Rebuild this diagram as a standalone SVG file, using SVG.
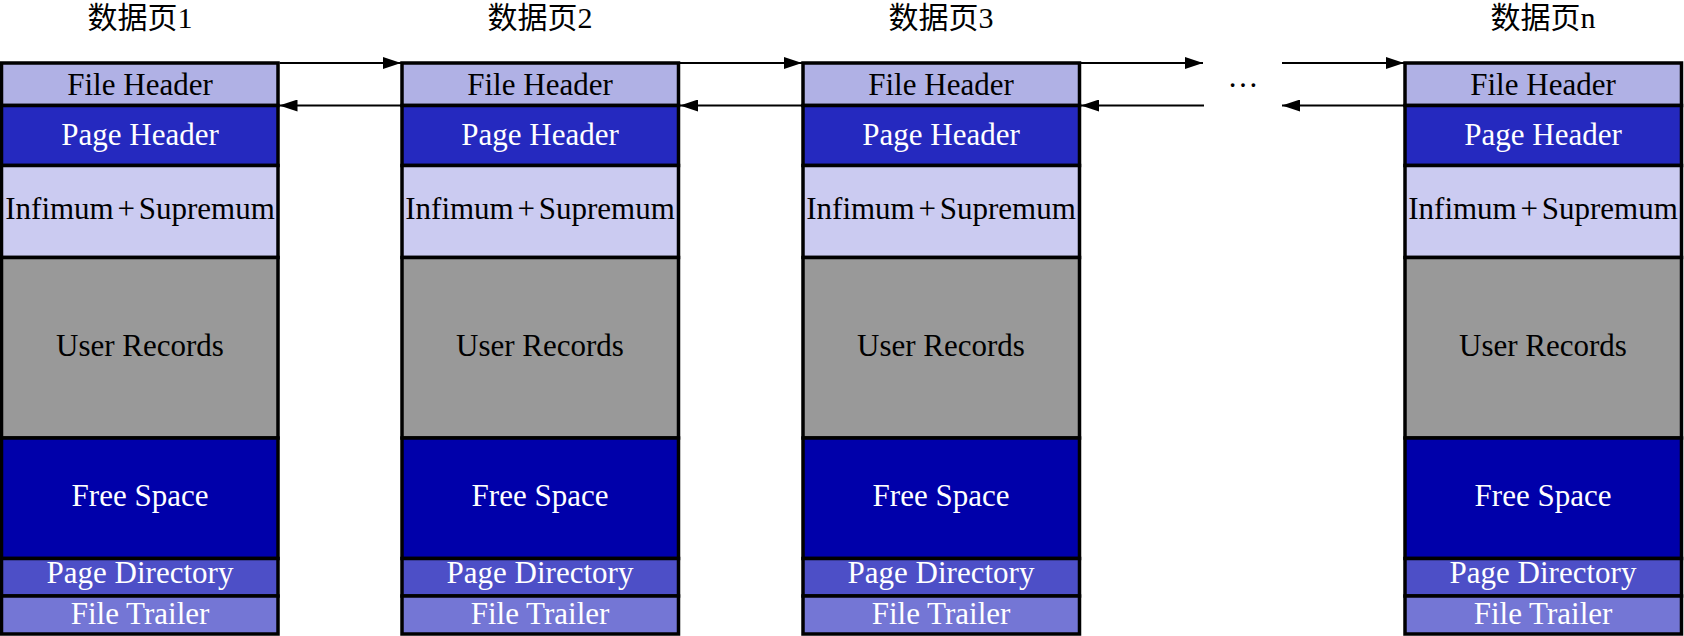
<svg xmlns="http://www.w3.org/2000/svg" width="1684" height="636" viewBox="0 0 1684 636">
<style>
.c{stroke:#000;stroke-width:3.5}
.fh{fill:#B0B1E5}.ph{fill:#2529BF}.is{fill:#CBCBF1}.ur{fill:#999999}.fs{fill:#0000AA}.pd{fill:#4D4FC7}.ft{fill:#7476D5}
.t{font-family:"Liberation Serif","Times New Roman",serif;font-size:31px;text-anchor:middle}
.inf{word-spacing:-4px}
.k{fill:#000}.w{fill:#fff}
.title{font-family:"Liberation Serif","Noto Sans CJK SC",serif;font-size:30px;text-anchor:middle;fill:#000}
.ln{stroke:#000;stroke-width:2;fill:none;marker-end:url(#ah)}
</style>
<defs>
<marker id="ah" viewBox="0 0 18 12" refX="18" refY="6" markerWidth="18" markerHeight="12" markerUnits="userSpaceOnUse" orient="auto">
<path d="M0,0 L18,6 L0,12 Z" fill="#000"/>
</marker>
</defs>
<rect width="1684" height="636" fill="#fff"/>

<g id="page1">
<text class="title" x="140" y="28">数据页1</text>
<rect class="c fh" x="1.5" y="63" width="276.5" height="42.5"/>
<rect class="c ph" x="1.5" y="105.5" width="276.5" height="60"/>
<rect class="c is" x="1.5" y="165.5" width="276.5" height="92"/>
<rect class="c ur" x="1.5" y="257.5" width="276.5" height="180.5"/>
<rect class="c fs" x="1.5" y="438" width="276.5" height="120.5"/>
<rect class="c pd" x="1.5" y="558.5" width="276.5" height="37.5"/>
<rect class="c ft" x="1.5" y="596" width="276.5" height="38"/>
<text class="t k" x="140" y="94.5">File Header</text>
<text class="t w" x="140" y="145">Page Header</text>
<text class="t k inf" x="140" y="219">Infimum + Supremum</text>
<text class="t k" x="140" y="356">User Records</text>
<text class="t w" x="140" y="506">Free Space</text>
<text class="t w" x="140" y="583">Page Directory</text>
<text class="t w" x="140" y="624">File Trailer</text>
</g>

<g id="page2">
<text class="title" x="540" y="28">数据页2</text>
<rect class="c fh" x="402" y="63" width="276.5" height="42.5"/>
<rect class="c ph" x="402" y="105.5" width="276.5" height="60"/>
<rect class="c is" x="402" y="165.5" width="276.5" height="92"/>
<rect class="c ur" x="402" y="257.5" width="276.5" height="180.5"/>
<rect class="c fs" x="402" y="438" width="276.5" height="120.5"/>
<rect class="c pd" x="402" y="558.5" width="276.5" height="37.5"/>
<rect class="c ft" x="402" y="596" width="276.5" height="38"/>
<text class="t k" x="540" y="94.5">File Header</text>
<text class="t w" x="540" y="145">Page Header</text>
<text class="t k inf" x="540" y="219">Infimum + Supremum</text>
<text class="t k" x="540" y="356">User Records</text>
<text class="t w" x="540" y="506">Free Space</text>
<text class="t w" x="540" y="583">Page Directory</text>
<text class="t w" x="540" y="624">File Trailer</text>
</g>

<g id="page3">
<text class="title" x="941" y="28">数据页3</text>
<rect class="c fh" x="803" y="63" width="276.5" height="42.5"/>
<rect class="c ph" x="803" y="105.5" width="276.5" height="60"/>
<rect class="c is" x="803" y="165.5" width="276.5" height="92"/>
<rect class="c ur" x="803" y="257.5" width="276.5" height="180.5"/>
<rect class="c fs" x="803" y="438" width="276.5" height="120.5"/>
<rect class="c pd" x="803" y="558.5" width="276.5" height="37.5"/>
<rect class="c ft" x="803" y="596" width="276.5" height="38"/>
<text class="t k" x="941" y="94.5">File Header</text>
<text class="t w" x="941" y="145">Page Header</text>
<text class="t k inf" x="941" y="219">Infimum + Supremum</text>
<text class="t k" x="941" y="356">User Records</text>
<text class="t w" x="941" y="506">Free Space</text>
<text class="t w" x="941" y="583">Page Directory</text>
<text class="t w" x="941" y="624">File Trailer</text>
</g>

<g id="ellipsis">
<text class="t k" x="1243" y="87">…</text>
</g>

<g id="pagen">
<text class="title" x="1543" y="28">数据页n</text>
<rect class="c fh" x="1405" y="63" width="276.5" height="42.5"/>
<rect class="c ph" x="1405" y="105.5" width="276.5" height="60"/>
<rect class="c is" x="1405" y="165.5" width="276.5" height="92"/>
<rect class="c ur" x="1405" y="257.5" width="276.5" height="180.5"/>
<rect class="c fs" x="1405" y="438" width="276.5" height="120.5"/>
<rect class="c pd" x="1405" y="558.5" width="276.5" height="37.5"/>
<rect class="c ft" x="1405" y="596" width="276.5" height="38"/>
<text class="t k" x="1543" y="94.5">File Header</text>
<text class="t w" x="1543" y="145">Page Header</text>
<text class="t k inf" x="1543" y="219">Infimum + Supremum</text>
<text class="t k" x="1543" y="356">User Records</text>
<text class="t w" x="1543" y="506">Free Space</text>
<text class="t w" x="1543" y="583">Page Directory</text>
<text class="t w" x="1543" y="624">File Trailer</text>
</g>

<g id="connectors">
<line class="ln" x1="279.5" y1="63" x2="401" y2="63"/>
<line class="ln" x1="401" y1="105.5" x2="279.5" y2="105.5"/>
<line class="ln" x1="680" y1="63" x2="802" y2="63"/>
<line class="ln" x1="802" y1="105.5" x2="680" y2="105.5"/>
<line class="ln" x1="1081" y1="63" x2="1203" y2="63"/>
<line class="ln" x1="1204" y1="105.5" x2="1081" y2="105.5"/>
<line class="ln" x1="1282" y1="63" x2="1404" y2="63"/>
<line class="ln" x1="1404" y1="105.5" x2="1282" y2="105.5"/>
</g>
</svg>
